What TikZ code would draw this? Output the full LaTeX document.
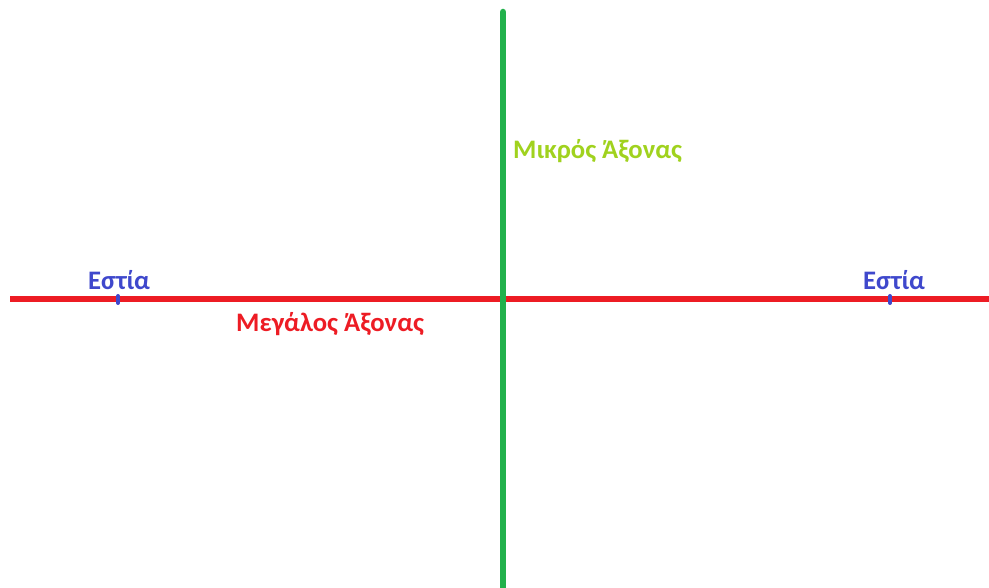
\documentclass[tikz,border=0pt]{standalone}
\usepackage{fontspec}
\setmainfont{Carlito}
\definecolor{paintred}{RGB}{237,28,36}
\definecolor{paintgreen}{RGB}{34,177,76}
\definecolor{lblgreen}{RGB}{160,210,30}
\definecolor{focusblue}{RGB}{63,72,204}
\begin{document}
\begin{tikzpicture}[x=1pt,y=-1pt,
  axisline/.style={line width=6.5pt},
  lbl/.style={font=\bfseries\fontsize{26.7}{26.7}\selectfont, inner sep=0pt, anchor=base west},
  focusmark/.style={line width=4pt, focusblue, line cap=round}]
\useasboundingbox (0,0) rectangle (989,588);
\coordinate (rl) at (10,299);
\coordinate (rr) at (989,299);
\coordinate (gt) at (503,12);
\coordinate (gb) at (503,588);
\draw[axisline, paintred] (rl) -- (rr);
\draw[axisline, paintgreen, line cap=round] (gt) -- (gb);
\coordinate (f1a) at (118,296);
\coordinate (f1b) at (118,303);
\coordinate (f2a) at (890,296);
\coordinate (f2b) at (890,303);
\draw[focusmark] (f1a) -- (f1b);
\draw[focusmark] (f2a) -- (f2b);
\node[lbl, text=focusblue] (e1) at (88,290) {Εστία};
\node[lbl, text=focusblue] (e2) at (863,290) {Εστία};
\node[lbl, text=lblgreen] (mk) at (513,159) {Μικρός Άξονας};
\node[lbl, text=paintred] (mg) at (236,332) {Μεγάλος Άξονας};
\end{tikzpicture}
\end{document}
